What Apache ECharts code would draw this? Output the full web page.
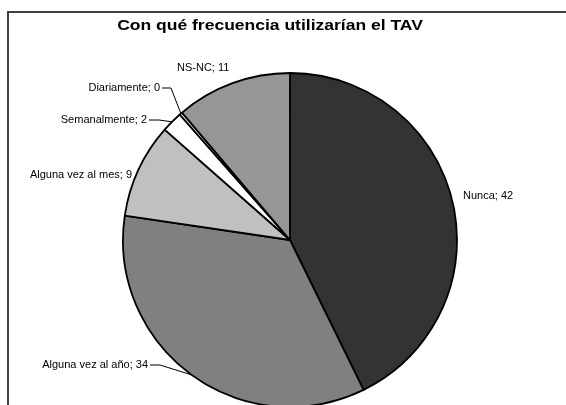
<!DOCTYPE html>
<html>
<head>
<meta charset="utf-8">
<script src="https://cdn.jsdelivr.net/npm/echarts@6/dist/echarts.min.js"></script>
<style>
  html, body { margin: 0; padding: 0; background: #fff; }
  #chart { width: 566px; height: 405px; }
</style>
</head>
<body>
<div id="chart"></div>
<script>
// datos del gráfico
var categories = ['Nunca', 'Alguna vez al año', 'Alguna vez al mes', 'Semanalmente', 'Diariamente', 'NS-NC']
var values = [42, 34, 9, 2, 0, 11]
var sliceColors = ['#333333', '#808080', '#c0c0c0', '#ffffff', '#ffffff', '#969696']

// posición de cada etiqueta: [x, y, align, codo de la línea guía o null]
var labelSpots = [
  [463, 196, 'left', null],
  [148, 365, 'right', [160, 365]],
  [132, 175, 'right', null],
  [147, 120, 'right', [159, 120]],
  [160, 88, 'right', [171, 88]],
  [177, 68, 'left', null]
]

var chart = echarts.init(document.getElementById('chart'))

var pieData = categories.map(function (name, i) {
  return {
    name: name,
    value: values[i],
    itemStyle: { color: sliceColors[i] },
    labelLine: { show: labelSpots[i][3] !== null }
  }
})

var option = {
  animation: false,
  backgroundColor: '#ffffff',
  graphic: [
    {
      type: 'rect',
      shape: { x: 8, y: 12, width: 620, height: 460 },
      style: { fill: 'none', stroke: '#404040', lineWidth: 2 },
      z: 0
    },
    {
      // el título de Excel tiene letras muy espaciadas: se estira en horizontal
      type: 'text',
      x: 270,
      y: 26,
      scaleX: 1.25,
      style: {
        text: 'Con qué frecuencia utilizarían el TAV',
        fill: '#000',
        font: 'bold 14px "Liberation Sans"',
        textAlign: 'center',
        textVerticalAlign: 'middle'
      }
    }
  ],
  series: [
    {
      type: 'pie',
      center: [290, 240],
      radius: 167,
      startAngle: 90,
      clockwise: true,
      minAngle: 1,
      avoidLabelOverlap: false,
      data: pieData,
      itemStyle: { borderColor: '#000', borderWidth: 1.8 },
      emphasis: { disabled: true },
      label: {
        show: true,
        position: 'outside',
        formatter: '{b}; {c}',
        color: '#000',
        fontFamily: '"Liberation Sans", Arial, sans-serif',
        fontSize: 11
      },
      labelLine: {
        lineStyle: { color: '#000', width: 1 }
      },
      labelLayout: function (params) {
        var spot = labelSpots[params.dataIndex]
        var res = { x: spot[0], y: spot[1], align: spot[2], verticalAlign: 'middle' }
        if (spot[3] && params.labelLinePoints) {
          var edge = params.labelLinePoints[0]
          res.labelLinePoints = [[spot[0] + 2, spot[1]], spot[3], edge]
        }
        return res
      }
    }
  ]
}

chart.setOption(option)
</script>
</body>
</html>
